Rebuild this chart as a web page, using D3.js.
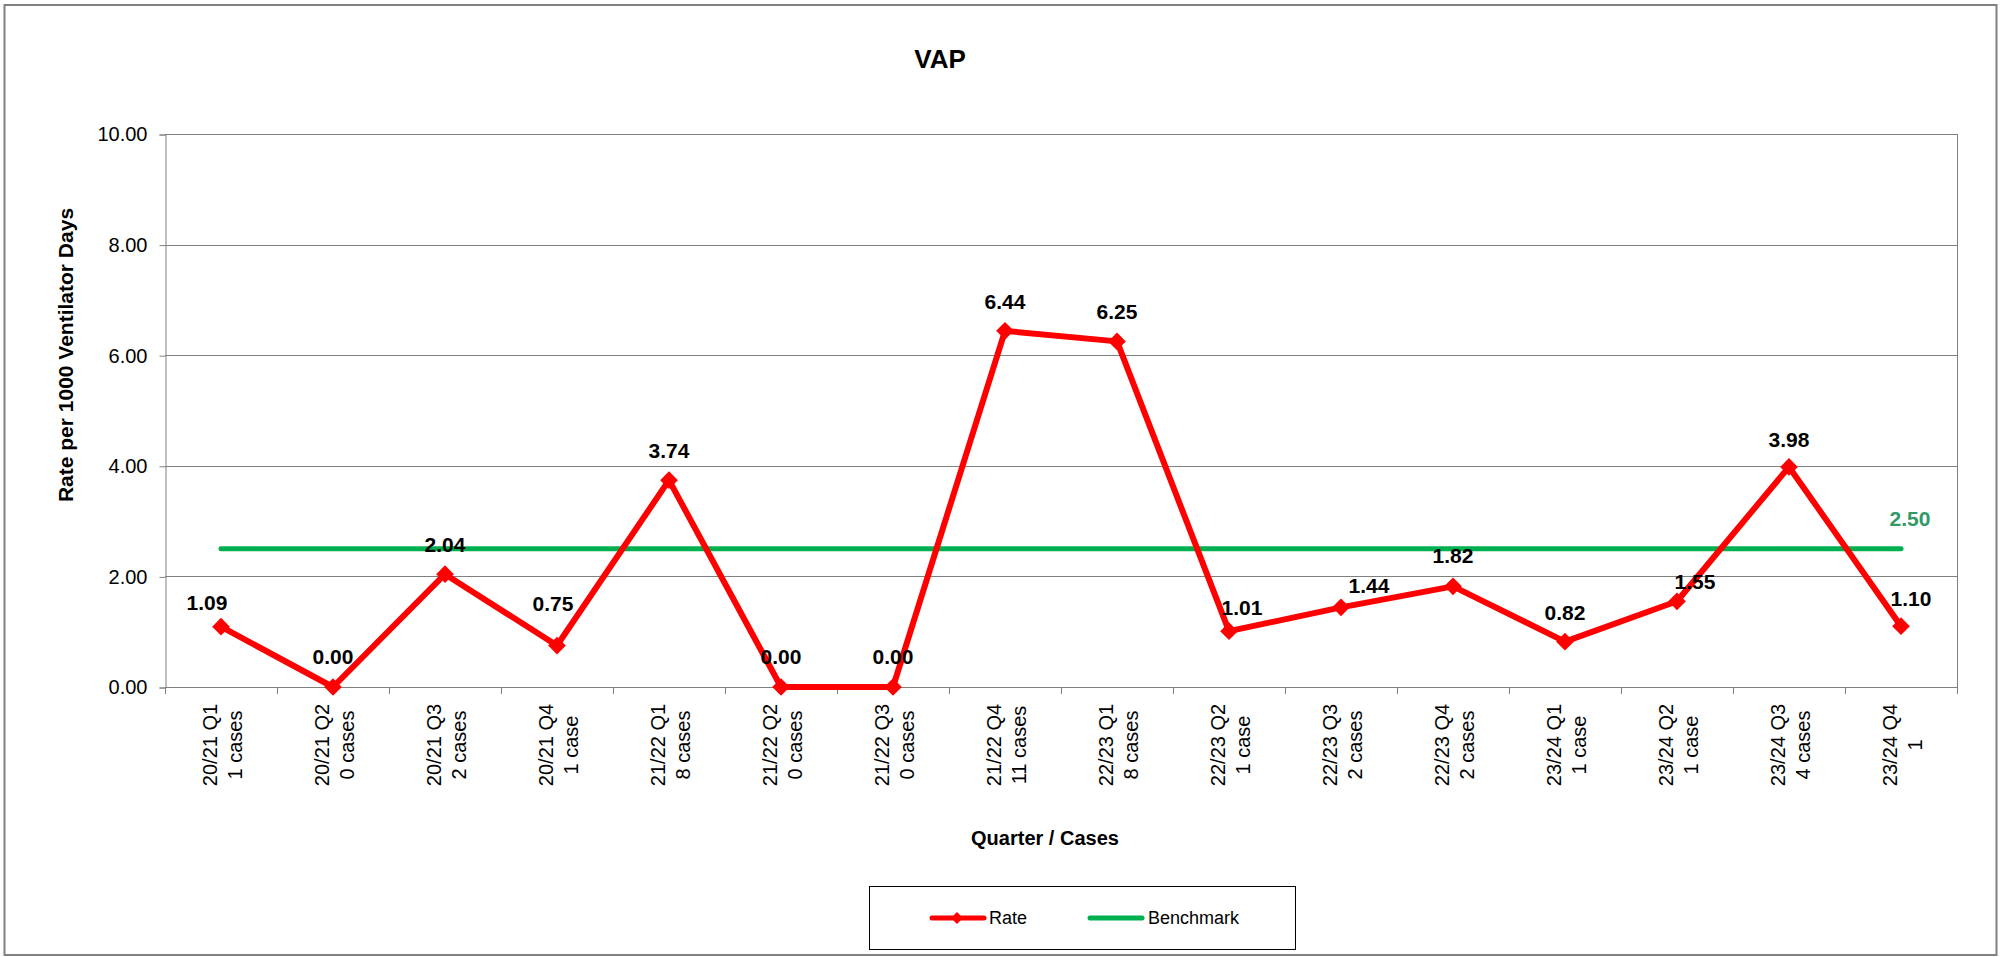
<!DOCTYPE html>
<html>
<head>
<meta charset="utf-8">
<title>VAP</title>
<script src="https://cdn.jsdelivr.net/npm/d3@7"></script>
<style>
    body { margin: 0; background: #fff; }
    svg text { font-family: Arial, "Liberation Sans", sans-serif; }
</style>
</head>
<body>
<svg id="chart" width="2001" height="957"></svg>
<script>
//chart data
var quarters = ["20/21 Q1", "20/21 Q2", "20/21 Q3", "20/21 Q4", "21/22 Q1", "21/22 Q2", "21/22 Q3", "21/22 Q4",
    "22/23 Q1", "22/23 Q2", "22/23 Q3", "22/23 Q4", "23/24 Q1", "23/24 Q2", "23/24 Q3", "23/24 Q4"];
var cases = ["1 cases", "0 cases", "2 cases", "1 case", "8 cases", "0 cases", "0 cases", "11 cases",
    "8 cases", "1 case", "2 cases", "2 cases", "1 case", "1 case", "4 cases", "1"];
var rates = [1.09, 0.00, 2.04, 0.75, 3.74, 0.00, 0.00, 6.44, 6.25, 1.01, 1.44, 1.82, 0.82, 1.55, 3.98, 1.10];
var benchmark = [2.50, 2.50, 2.50, 2.50, 2.50, 2.50, 2.50, 2.50, 2.50, 2.50, 2.50, 2.50, 2.50, 2.50, 2.50, 2.50];
var yTicks = [0, 2, 4, 6, 8, 10];

//label nudges (as placed in the original), [dx, dy above marker]
var labelNudge = [[-14, -17], [0, -23], [0, -22], [-4, -35], [0, -22], [0, -23], [0, -23], [0, -22],
    [0, -22], [13, -16], [28, -14], [0, -23], [0, -22], [18, -12], [0, -20], [10, -20]];

var svg = d3.select("#chart");
var plotLeft = 165, plotRight = 1957, plotTop = 134, plotBottom = 687;

var x = d3.scaleBand()
    .domain(quarters)
    .range([plotLeft, plotRight]);
var y = d3.scaleLinear()
    .domain([0, 10])
    .range([plotBottom, plotTop]);

function cx(i) { return x(quarters[i]) + x.bandwidth() / 2; }

//outer chart border
svg.append("rect")
    .attr("x", 4.5).attr("y", 5)
    .attr("width", 1992).attr("height", 950)
    .attr("fill", "none")
    .attr("stroke", "#808080")
    .attr("stroke-width", 2);

//title
svg.append("text")
    .attr("x", 940).attr("y", 68)
    .attr("text-anchor", "middle")
    .attr("font-size", 26)
    .attr("font-weight", "bold")
    .text("VAP");

//gridlines
svg.append("g").selectAll("line")
    .data(yTicks.slice(1))
    .enter()
    .append("line")
    .attr("x1", plotLeft).attr("x2", plotRight)
    .attr("y1", function (d) { return Math.round(y(d)) + 0.5; })
    .attr("y2", function (d) { return Math.round(y(d)) + 0.5; })
    .attr("stroke", "#808080");

//right border of plot
svg.append("line")
    .attr("x1", plotRight + 0.5).attr("x2", plotRight + 0.5)
    .attr("y1", plotTop).attr("y2", plotBottom)
    .attr("stroke", "#808080");

//y axis
var yAxis = svg.append("g")
    .attr("transform", "translate(" + (plotLeft + 0.5) + ",0.5)")
    .call(d3.axisLeft(y).tickValues(yTicks).tickFormat(d3.format(".2f")).tickSize(6).tickPadding(12));
yAxis.select(".domain").attr("stroke", "#808080");
yAxis.selectAll(".tick line").attr("stroke", "#808080");
yAxis.selectAll(".tick text")
    .attr("font-size", 20)
    .attr("font-family", "Arial, 'Liberation Sans', sans-serif")
    .attr("fill", "#000");

//x axis line and ticks between categories
var xg = svg.append("g");
xg.append("line")
    .attr("x1", plotLeft).attr("x2", plotRight)
    .attr("y1", plotBottom + 0.5).attr("y2", plotBottom + 0.5)
    .attr("stroke", "#808080");
var bounds = quarters.map(function (q) { return x(q); }).concat([plotRight]);
xg.selectAll(".xtick")
    .data(bounds)
    .enter()
    .append("line")
    .attr("class", "xtick")
    .attr("x1", function (d) { return Math.round(d) + 0.5; })
    .attr("x2", function (d) { return Math.round(d) + 0.5; })
    .attr("y1", plotBottom).attr("y2", plotBottom + 7)
    .attr("stroke", "#808080");

//rotated category labels, two lines
var xl = xg.selectAll(".xlabel")
    .data(quarters)
    .enter()
    .append("text")
    .attr("class", "xlabel")
    .attr("transform", function (d, i) { return "translate(" + cx(i) + ",745) rotate(-90)"; })
    .attr("text-anchor", "middle")
    .attr("font-size", 20);
xl.append("tspan")
    .attr("x", 0).attr("y", -4)
    .text(function (d) { return d; });
xl.append("tspan")
    .attr("x", 0).attr("y", 21)
    .text(function (d, i) { return cases[i]; });

//axis titles
svg.append("text")
    .attr("transform", "translate(73,355) rotate(-90)")
    .attr("text-anchor", "middle")
    .attr("font-size", 21)
    .attr("font-weight", "bold")
    .text("Rate per 1000 Ventilator Days");

svg.append("text")
    .attr("x", 1045).attr("y", 845)
    .attr("text-anchor", "middle")
    .attr("font-size", 20)
    .attr("font-weight", "bold")
    .text("Quarter / Cases");

//benchmark line
var line = d3.line()
    .x(function (d, i) { return cx(i); })
    .y(function (d) { return y(d); });

svg.append("path")
    .datum(benchmark)
    .attr("d", line)
    .attr("fill", "none")
    .attr("stroke", "#00B050")
    .attr("stroke-width", 5)
    .attr("stroke-linecap", "round");

svg.append("text")
    .attr("x", cx(benchmark.length - 1) + 9)
    .attr("y", y(benchmark[benchmark.length - 1]) - 23)
    .attr("text-anchor", "middle")
    .attr("font-size", 21)
    .attr("font-weight", "bold")
    .attr("fill", "#339966")
    .text(d3.format(".2f")(benchmark[benchmark.length - 1]));

//rate line
svg.append("path")
    .datum(rates)
    .attr("d", line)
    .attr("fill", "none")
    .attr("stroke", "#FF0000")
    .attr("stroke-width", 6)
    .attr("stroke-linejoin", "round");

var diamond = d3.symbol().type(d3.symbolDiamond2).size(200);
svg.append("g").selectAll("path")
    .data(rates)
    .enter()
    .append("path")
    .attr("d", diamond)
    .attr("transform", function (d, i) { return "translate(" + cx(i) + "," + y(d) + ")"; })
    .attr("fill", "#FF0000");

//data labels
svg.append("g").selectAll("text")
    .data(rates)
    .enter()
    .append("text")
    .attr("x", function (d, i) { return cx(i) + labelNudge[i][0]; })
    .attr("y", function (d, i) { return y(d) + labelNudge[i][1]; })
    .attr("text-anchor", "middle")
    .attr("font-size", 21)
    .attr("font-weight", "bold")
    .text(function (d) { return d3.format(".2f")(d); });

//legend
var legend = svg.append("g");
legend.append("rect")
    .attr("x", 869.5).attr("y", 886.5)
    .attr("width", 426).attr("height", 63)
    .attr("fill", "#fff")
    .attr("stroke", "#000");
legend.append("line")
    .attr("x1", 932).attr("x2", 984)
    .attr("y1", 918).attr("y2", 918)
    .attr("stroke", "#FF0000").attr("stroke-width", 5).attr("stroke-linecap", "round");
legend.append("path")
    .attr("d", d3.symbol().type(d3.symbolDiamond2).size(90))
    .attr("transform", "translate(957,918)")
    .attr("fill", "#FF0000");
legend.append("text")
    .attr("x", 989).attr("y", 924)
    .attr("font-size", 18)
    .text("Rate");
legend.append("line")
    .attr("x1", 1090).attr("x2", 1142)
    .attr("y1", 918).attr("y2", 918)
    .attr("stroke", "#00B050").attr("stroke-width", 5).attr("stroke-linecap", "round");
legend.append("text")
    .attr("x", 1148).attr("y", 924)
    .attr("font-size", 18)
    .text("Benchmark");
</script>
</body>
</html>
